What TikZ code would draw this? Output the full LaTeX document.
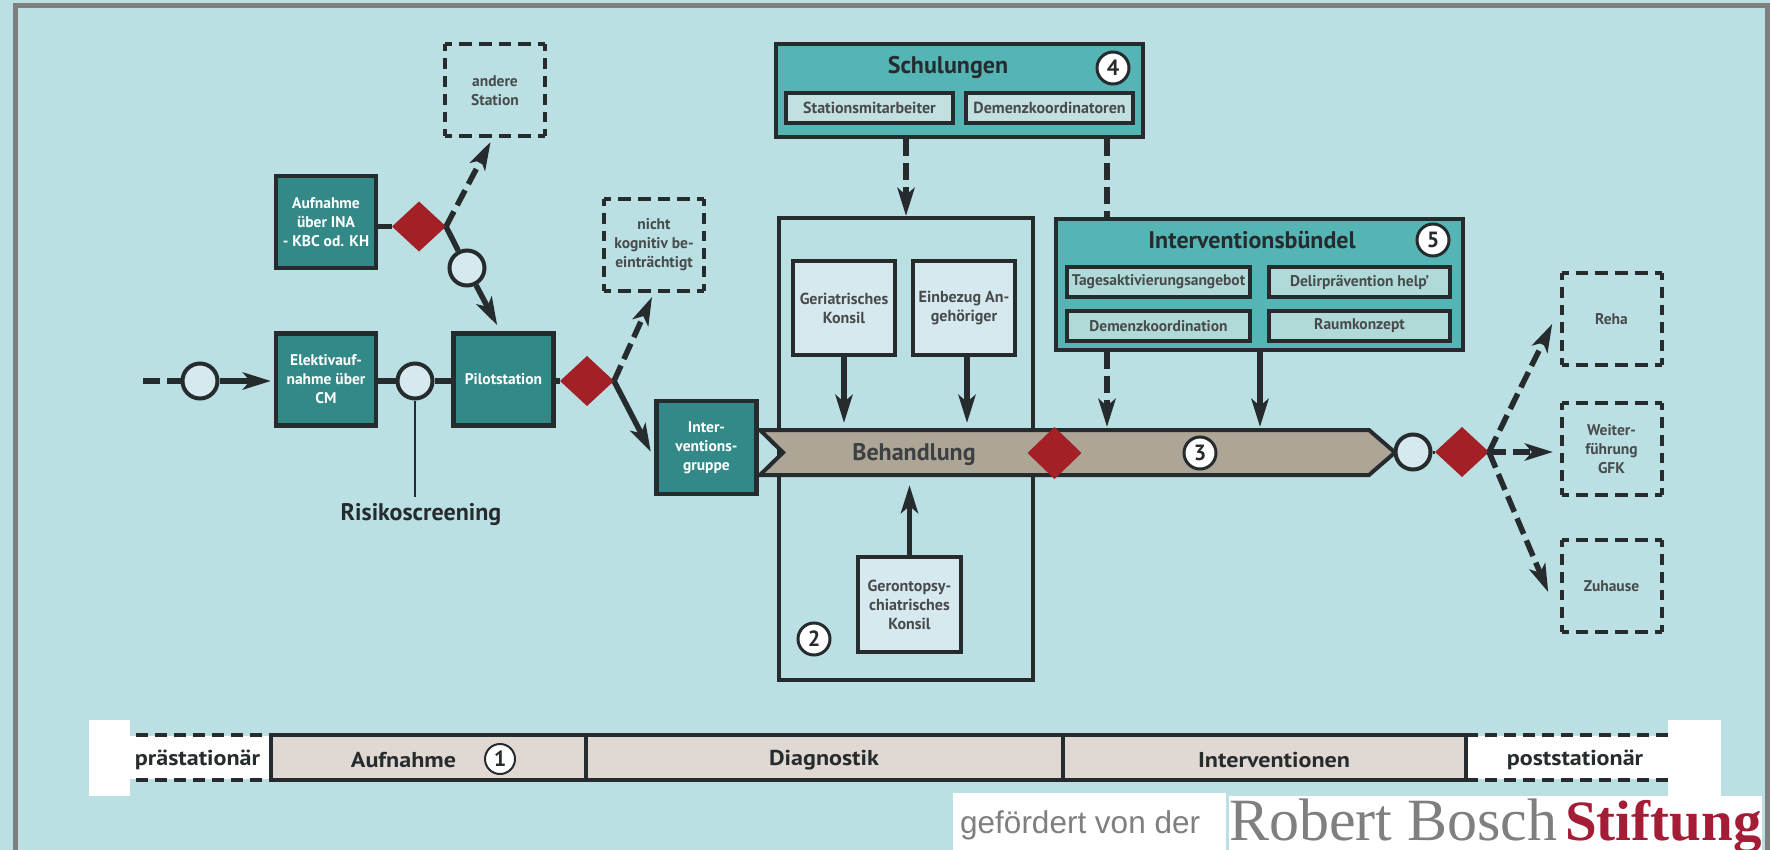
\documentclass[tikz,border=0pt]{standalone}
\usepackage{fontspec}
\setmainfont{PT Sans}
\newfontfamily\arialfont{Liberation Sans}
\newfontfamily\timesfont{Liberation Serif}
\newfontfamily\widefont[FakeStretch=1.12]{PT Sans}
\usetikzlibrary{shapes.geometric,arrows.meta}
\definecolor{bgc}{HTML}{BAE0E3}
\definecolor{frame}{HTML}{7F7F7F}
\definecolor{dk}{HTML}{262B2D}
\definecolor{teal1}{HTML}{338987}
\definecolor{teal2}{HTML}{55B5B5}
\definecolor{sub1}{HTML}{C3E0E0}
\definecolor{sub2}{HTML}{B0DAD8}
\definecolor{lite}{HTML}{D6E9EE}
\definecolor{redd}{HTML}{A32026}
\definecolor{bandc}{HTML}{ADA596}
\definecolor{tl}{HTML}{E0D9D3}
\definecolor{logored}{HTML}{A51C36}
\newcommand{\dashsides}[1]{%
  \draw[dk,line width=4pt,dash pattern=on 12.75pt off 7pt,dash phase=5.75pt] (#1.north west) -- (#1.north east);
  \draw[dk,line width=4pt,dash pattern=on 12.75pt off 7pt,dash phase=5.75pt] (#1.south west) -- (#1.south east);
  \draw[dk,line width=4pt,dash pattern=on 10.75pt off 7pt,dash phase=3.75pt] (#1.north west) -- (#1.south west);
  \draw[dk,line width=4pt,dash pattern=on 10.75pt off 7pt,dash phase=3.75pt] (#1.north east) -- (#1.south east);
}
\tikzset{
  x=1pt,y=-1pt,
  tip/.style={-{Stealth[length=28pt,width=17pt,inset=7pt]}},
  conn/.style={draw=dk,line width=5.5pt},
  arr/.style={conn,tip},
  dasharr/.style={conn,tip,dash pattern=on 17pt off 7pt},
  dashline/.style={conn,dash pattern=on 17pt off 7pt},
  sized/.style n args={2}{minimum width=#1,minimum height=#2,inner sep=0pt,outer sep=2pt,align=center},
  lab/.style={font=\bfseries\fontsize{15.5}{19}\selectfont},
  labS/.style={font=\bfseries\fontsize{16}{19}\selectfont},
  tealbox/.style={draw=dk,line width=4.5pt,fill=teal1,text=white,lab},
  dashbox/.style={text=dk!85,lab},
  litebox/.style={draw=dk,line width=4pt,fill=lite,text=dk!85,labS},
  subA/.style={draw=dk,line width=3.5pt,fill=sub1,text=dk!85,labS},
  subB/.style={draw=dk,line width=3.5pt,fill=sub2,text=dk!85,lab},
  big/.style={font=\bfseries\fontsize{24}{26}\selectfont,text=dk},
  blank/.style={circle,draw=dk,line width=4pt,fill=lite,minimum size=35pt,inner sep=0pt,outer sep=2pt},
  numc/.style={circle,draw=dk,line width=3pt,fill=white,minimum size=32pt,inner sep=0pt,text=dk,font=\bfseries\fontsize{22}{24}\selectfont},
  dia/.style={diamond,fill=redd,minimum width=54pt,minimum height=50pt,inner sep=0pt,outer sep=0pt},
  tlbox/.style={draw=dk,line width=3.5pt,fill=tl},
  tllab/.style={font=\widefont\bfseries\fontsize{21.5}{24}\selectfont,text=dk},
  whitebox/.style={fill=white,inner sep=0pt,outer sep=0pt}
}
\begin{document}
\begin{tikzpicture}
\clip (0,0) rectangle (1770,850);
\fill[bgc] (0,0) rectangle (1770,850);
\draw[frame,line width=5.5pt] (15.5,850) -- (15.5,5.5) -- (1768,5.5) -- (1768,850);

% timeline
\node[whitebox,sized={41pt}{76pt},outer sep=0pt] (wl) at (109.5,758) {};
\node[whitebox,sized={53pt}{76pt},outer sep=0pt] (wr) at (1694,758) {};
\node[whitebox,sized={141pt}{43pt},outer sep=0pt] (prae) at (200.5,757.5) {};
\node[whitebox,sized={203pt}{43pt},outer sep=0pt] (post) at (1567.5,757.5) {};
\node[tlbox,sized={315pt}{45pt},outer sep=0pt] (tauf) at (428.5,757.5) {};
\node[tlbox,sized={477pt}{45pt},outer sep=0pt] (tdia) at (824.5,757.5) {};
\node[tlbox,sized={403pt}{45pt},outer sep=0pt] (tint) at (1264.5,757.5) {};
\coordinate (dl1) at (136,735);
\coordinate (dl2) at (136,780);
\coordinate (dr1) at (1669,735);
\coordinate (dr2) at (1669,780);
\draw[dk,line width=4pt,dash pattern=on 12pt off 7pt] (dl1) -- (tauf.north west);
\draw[dk,line width=4pt,dash pattern=on 12pt off 7pt] (dl2) -- (tauf.south west);
\draw[dk,line width=4pt,dash pattern=on 12pt off 7pt] (tint.north east) -- (dr1);
\draw[dk,line width=4pt,dash pattern=on 12pt off 7pt] (tint.south east) -- (dr2);
\node[tllab] (tl1) at (197.5,760) {prästationär};
\node[tllab] (tl2) at (403.5,760) {Aufnahme};
\node[numc,line width=2pt,minimum size=30pt] (n1) at (500,759) {1};
\node[tllab] (tl3) at (824,760) {Diagnostik};
\node[tllab] (tl4) at (1274,760) {Interventionen};
\node[tllab] (tl5) at (1575,760) {poststationär};

% logo
\node[whitebox,sized={273pt}{57pt},outer sep=0pt] (wgef) at (1089.5,821.5) {};
\node[whitebox,sized={533pt}{54pt},outer sep=0pt] (wlogo) at (1495.5,823) {};
\node[anchor=base west,inner sep=0pt,text=frame,font=\arialfont\fontsize{31.5}{34}\selectfont] (gef) at (960,833) {gefördert von der};
\node[anchor=base west,inner sep=0pt,text=frame,font=\timesfont\fontsize{60}{62}\selectfont] (rb) at (1229,840) {Robert Bosch};
\node[anchor=base west,inner sep=0pt,text=logored,font=\timesfont\bfseries\fontsize{57}{62}\selectfont] (st) at (1565,840) {Stiftung};

% left flow
\node[dashbox,sized={100pt}{92pt},outer sep=0pt] (andere) at (495,90.5) {andere\\Station};
\dashsides{andere}
\node[tealbox,sized={100pt}{92pt}] (aufn) at (326,222) {Aufnahme\\über INA\\- KBC od. KH};
\node[dia] (d1) at (419,226.5) {};
\node[blank] (c1) at (467,268) {};
\node[tealbox,sized={100pt}{92pt}] (elek) at (326,379.5) {Elektivauf-\\nahme über\\CM};
\node[tealbox,sized={100pt}{92pt}] (pilot) at (503.5,379.5) {Pilotstation};
\node[blank] (c0) at (200,381) {};
\node[blank] (c2) at (415,381) {};
\node[dia] (d2) at (587,381) {};
\node[dashbox,sized={100pt}{92pt},outer sep=0pt] (nicht) at (654,245) {nicht\\kognitiv be-\\einträchtigt};
\dashsides{nicht}
\node[tealbox,sized={100pt}{93pt}] (igr) at (706.5,447.5) {Inter-\\ventions-\\gruppe};
\node[font=\bfseries\fontsize{24}{26}\selectfont,text=dk] (risk) at (421,515) {Risikoscreening};
\coordinate (start) at (143,381);

\draw[conn] (aufn.east |- d1) -- (d1.west);
\draw[dasharr,shorten >=6pt] (d1.east) -- ([xshift=-1.6pt]andere.south);
\draw[conn] (d1.east) -- (c1);
\draw[arr,shorten >=7pt] (c1) -- ([xshift=-3pt]pilot.north);
\draw[conn,dash pattern=on 17pt off 7pt] (start) -- (c0.west);
\draw[arr,shorten >=3pt] (c0.east) -- (elek.west |- c0);
\draw[conn] (elek.east |- c2) -- (c2.west);
\draw[conn] (c2.east) -- (pilot.west |- c2);
\draw[dk,line width=2pt] (c2.south) -- (c2 |- 0,497);
\draw[conn] (pilot.east |- d2) -- (d2.west);
\draw[dasharr,shorten >=6.5pt] (d2.east) -- ([xshift=0.7pt]nicht.south);
\draw[arr,shorten >=8pt] (d2.east) -- ([yshift=-11.5pt]igr.west);

% diagnostic frame and training
\node[draw=dk,line width=3.5pt,fill=bgc,sized={254pt}{462pt}] (diag) at (906,449) {};
\node[draw=dk,line width=4.5pt,fill=teal2,sized={367pt}{93pt}] (schul) at (959.5,90.5) {};
\node[big,text=dk] (schult) at (948,67) {Schulungen};
\node[numc] (n4) at (1113,68) {4};
\node[subA,sized={167pt}{30pt}] (s1) at (869.5,108) {Stationsmitarbeiter};
\node[subA,sized={167pt}{30pt}] (s2) at (1049.5,108) {Demenzkoordinatoren};
\node[draw=dk,line width=4.5pt,fill=teal2,sized={407pt}{131pt}] (ib) at (1259.5,284.5) {};
\node[big] (ibt) at (1252,240) {Interventionsbündel};
\node[numc] (n5) at (1433,240) {5};
\node[subB,sized={183pt}{30pt}] (i1) at (1158.5,282) {Tagesaktivierungsangebot};
\node[subB,sized={181pt}{30pt}] (i2) at (1359.5,282) {Delirprävention help'};
\node[subB,sized={183pt}{30pt}] (i3) at (1158.5,326) {Demenzkoordination};
\node[subB,sized={181pt}{30pt}] (i4) at (1359.5,326) {Raumkonzept};
\node[litebox,sized={102pt}{94pt}] (geri) at (844,308) {Geriatrisches\\Konsil};
\node[litebox,sized={102pt}{94pt}] (einb) at (964,308) {Einbezug An-\\gehöriger};
\node[litebox,sized={103pt}{95pt}] (gero) at (909.5,604.5) {Gerontopsy-\\chiatrisches\\Konsil};
\node[numc] (n2) at (814,639) {2};

\coordinate (btop) at (0,423);
\coordinate (bbot) at (0,485);
\coordinate (xd) at (1107,0);
\coordinate (xs) at (1260,0);
\draw[dasharr] (schul.south -| diag.north) -- (diag.north);
\draw[dashline] (schul.south -| xd) -- (ib.north -| xd);
\draw[arr] (geri.south) -- (geri |- btop);
\draw[arr] ([xshift=3pt]einb.south) -- ([xshift=3pt]einb.south |- btop);
\draw[arr] (gero.north) -- (gero |- bbot);
\draw[dasharr] (ib.south -| xd) -- (xd |- 0,427);
\draw[arr] (ib.south -| xs) -- (xs |- 0,427);

% treatment band
\draw[draw=dk,line width=4pt,fill=bandc,line join=miter] (760,430) -- (1369,430) -- (1395,452.5) -- (1369,475) -- (760,475) -- (783,452.5) -- cycle;
\node[big,text=dk!90] (beh) at (914,455) {Behandlung};
\node[dia,minimum width=54pt,minimum height=52pt] (d3) at (1054.5,453) {};
\node[numc] (n3) at (1200,453) {3};
\node[blank] (c3) at (1413,452) {};
\node[dia] (d4) at (1462,452) {};
\draw[conn,line width=3pt] (c3.east) -- (d4.west);

% exits
\node[dashbox,sized={100pt}{92pt},outer sep=0pt] (reha) at (1611.5,319) {Reha};
\node[dashbox,sized={100pt}{92pt},outer sep=0pt] (weit) at (1611.5,449) {Weiter-\\führung\\GFK};
\node[dashbox,sized={100pt}{92pt},outer sep=0pt] (zuh) at (1611.5,586) {Zuhause};
\dashsides{reha}
\dashsides{weit}
\dashsides{zuh}
\draw[dasharr,shorten >=21pt] (d4.east) -- ([yshift=14pt]reha.west);
\draw[dasharr,shorten >=8.5pt] (d4.east) -- (weit.west |- d4);
\draw[dasharr,shorten >=34pt] (d4.east) -- ([yshift=-37.5pt]zuh.west);
\end{tikzpicture}
\end{document}
